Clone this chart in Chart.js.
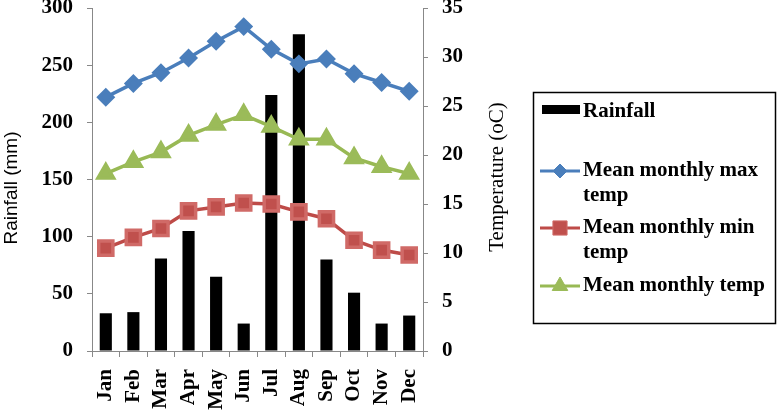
<!DOCTYPE html>
<html>
<head>
<meta charset="utf-8">
<script src="https://cdn.jsdelivr.net/npm/chart.js@4"></script>
<style>
  html, body { margin: 0; padding: 0; background: #fff; }
  #wrap { width: 778px; height: 413px; position: relative; }
</style>
</head>
<body>
<div id="wrap"><canvas id="chart"></canvas></div>
<script>
const months = ['Jan', 'Feb', 'Mar', 'Apr', 'May', 'Jun', 'Jul', 'Aug', 'Sep', 'Oct', 'Nov', 'Dec'];
const rainfall = [33, 34, 81, 105, 65, 24, 224, 277, 80, 51, 24, 31];
const maxTemp = [25.9, 27.3, 28.4, 29.9, 31.6, 33.1, 30.8, 29.3, 29.8, 28.3, 27.4, 26.5];
const minTemp = [10.5, 11.6, 12.5, 14.3, 14.7, 15.1, 15.0, 14.2, 13.5, 11.3, 10.3, 9.8];
const meanTemp = [18.1, 19.3, 20.3, 22.0, 23.1, 24.1, 22.9, 21.6, 21.6, 19.7, 18.8, 18.1];
const rainTicks = [0, 50, 100, 150, 200, 250, 300];
const tempTicks = [0, 5, 10, 15, 20, 25, 30, 35];

const tickFont = { family: 'Liberation Serif', size: 21, weight: 'bold' };
const axisGray = '#888888';

// axis titles, both reading bottom to top
const axisTitles = {
    id: 'axisTitles',
    afterDraw(chart) {
        const ctx = chart.ctx;
        ctx.save();
        ctx.fillStyle = '#000';
        ctx.textAlign = 'center';
        ctx.textBaseline = 'middle';
        ctx.font = '19px "Liberation Sans"';
        ctx.translate(12, 188);
        ctx.rotate(-Math.PI / 2);
        ctx.fillText('Rainfall (mm)', 0, 0);
        ctx.restore();

        ctx.save();
        ctx.fillStyle = '#000';
        ctx.textAlign = 'center';
        ctx.textBaseline = 'middle';
        ctx.font = '21px "Liberation Serif"';
        ctx.translate(497, 177);
        ctx.rotate(-Math.PI / 2);
        ctx.fillText('Temperature (oC)', 0, 0);
        ctx.restore();
    }
};

// legend drawn in a box on the right, like the Excel original
const boxLegend = {
    id: 'boxLegend',
    afterDraw(chart) {
        const ctx = chart.ctx;
        ctx.save();
        ctx.strokeStyle = '#000';
        ctx.lineWidth = 1.5;
        ctx.strokeRect(533.5, 92.5, 242, 231);

        ctx.font = 'bold 21px "Liberation Serif"';
        ctx.textBaseline = 'middle';

        const ds = chart.data.datasets;
        ctx.fillStyle = '#000';
        ctx.fillRect(542, 105, 38, 9);
        ctx.fillText('Rainfall', 583, 112);

        const rows = [
            { d: ds[1], y: 171, lines: ['Mean monthly max', 'temp'] },
            { d: ds[2], y: 228, lines: ['Mean monthly min', 'temp'] },
            { d: ds[3], y: 286, lines: ['Mean monthly temp'] }
        ];
        rows.forEach(r => {
            ctx.strokeStyle = r.d.borderColor;
            ctx.lineWidth = 3;
            ctx.beginPath();
            ctx.moveTo(540, r.y);
            ctx.lineTo(580, r.y);
            ctx.stroke();
            ctx.fillStyle = r.d.pointBackgroundColor;
            ctx.strokeStyle = r.d.pointBorderColor;
            ctx.lineWidth = 1;
            Chart.helpers.drawPoint(ctx, {
                pointStyle: r.d.pointStyle,
                radius: r.d.pointRadius,
                rotation: 0,
                borderWidth: 1
            }, 560, r.y);
            ctx.fillStyle = '#000';
            r.lines.forEach((t, i) => ctx.fillText(t, 583, r.y + i * 25));
        });
        ctx.restore();
    }
};

new Chart(document.getElementById('chart'), {
    data: {
        labels: months,
        datasets: [
            {
                type: 'bar',
                label: 'Rainfall',
                data: rainfall,
                backgroundColor: '#000',
                yAxisID: 'y',
                categoryPercentage: 1,
                barPercentage: 0.44,
                order: 2
            },
            {
                type: 'line',
                label: 'Mean monthly max temp',
                data: maxTemp,
                borderColor: '#4a7ebb',
                backgroundColor: '#4a7ebb',
                pointBackgroundColor: '#4a7ebb',
                pointBorderColor: '#4a7ebb',
                borderWidth: 3.5,
                pointStyle: 'rectRot',
                pointRadius: 7,
                tension: 0,
                yAxisID: 'y1',
                order: 1
            },
            {
                type: 'line',
                label: 'Mean monthly min temp',
                data: minTemp,
                borderColor: '#be4b48',
                backgroundColor: '#be4b48',
                pointBackgroundColor: '#c0504d',
                pointBorderColor: '#d06a67',
                borderWidth: 3.5,
                pointStyle: 'rect',
                pointRadius: 10,
                tension: 0,
                yAxisID: 'y1',
                order: 1
            },
            {
                type: 'line',
                label: 'Mean monthly temp',
                data: meanTemp,
                borderColor: '#98b954',
                backgroundColor: '#98b954',
                pointBackgroundColor: '#9bbb59',
                pointBorderColor: '#9bbb59',
                borderWidth: 3.5,
                pointStyle: 'triangle',
                pointRadius: 9,
                tension: 0,
                yAxisID: 'y1',
                order: 1
            }
        ]
    },
    options: {
        responsive: true,
        maintainAspectRatio: false,
        animation: false,
        layout: { autoPadding: false, padding: { top: 8, right: 258, left: 0, bottom: 0 } },
        plugins: {
            legend: { display: false },
            tooltip: { enabled: false }
        },
        scales: {
            x: {
                offset: true,
                grid: { drawOnChartArea: false, drawTicks: true, tickLength: 6, color: axisGray, offset: true },
                border: { color: axisGray },
                ticks: {
                    color: '#000',
                    font: { family: 'Liberation Serif', size: 21, weight: 'bold' },
                    minRotation: 90,
                    maxRotation: 90,
                    autoSkip: false,
                    padding: 12
                },
                afterFit: (s) => { s.height = 62; s.paddingLeft = 0; s.paddingRight = 0; }
            },
            y: {
                position: 'left',
                min: 0,
                max: 300,
                afterBuildTicks: (s) => { s.ticks = rainTicks.map(v => ({ value: v })); },
                grid: { drawOnChartArea: false, drawTicks: true, tickLength: 5, color: axisGray },
                border: { color: axisGray },
                ticks: { color: '#000', font: tickFont, padding: 14 },
                afterFit: (s) => { s.width = 92; s.paddingTop = 0; s.paddingBottom = 0; }
            },
            y1: {
                position: 'right',
                min: 0,
                max: 35,
                afterBuildTicks: (s) => { s.ticks = tempTicks.map(v => ({ value: v })); },
                grid: { drawOnChartArea: false, drawTicks: true, tickLength: 5, color: axisGray },
                border: { color: axisGray },
                ticks: { color: '#000', font: tickFont, padding: 14 },
                afterFit: (s) => { s.width = 97; s.paddingTop = 0; s.paddingBottom = 0; }
            }
        }
    },
    plugins: [axisTitles, boxLegend]
});
</script>
</body>
</html>
